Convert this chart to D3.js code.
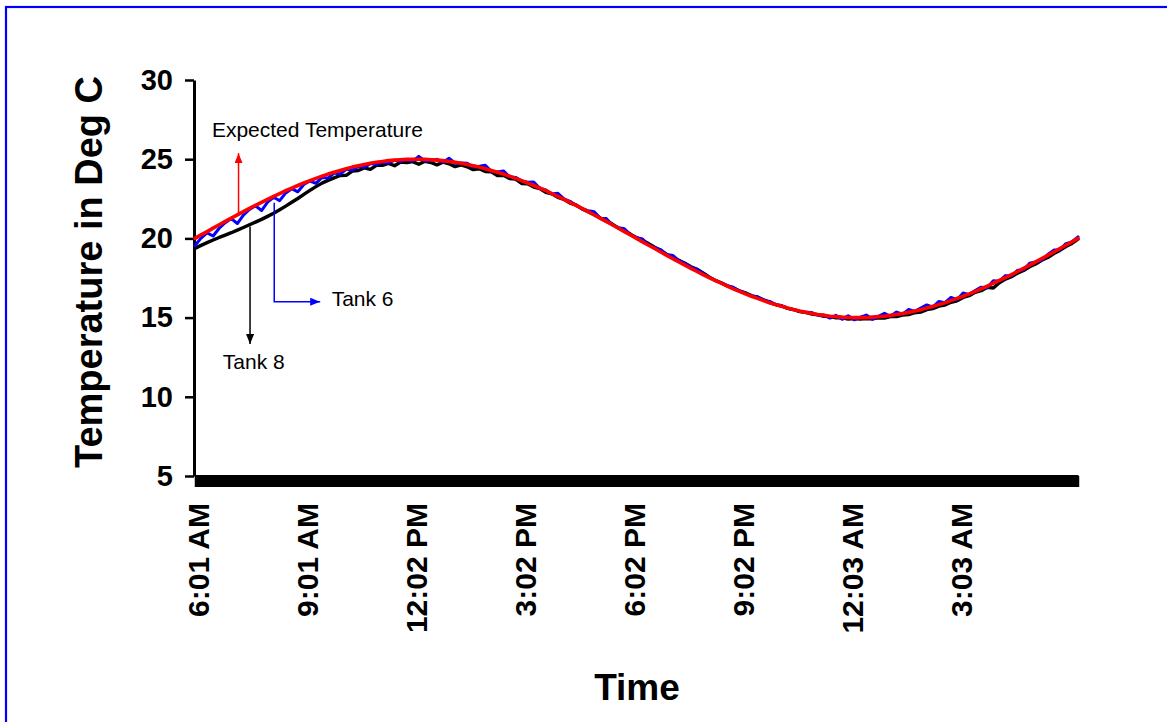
<!DOCTYPE html>
<html>
<head>
<meta charset="utf-8">
<script src="https://cdn.jsdelivr.net/npm/d3@7"></script>
<style>
	body { margin: 0; background: #fff; }
	svg text { font-family: Arial, "Liberation Sans", sans-serif; }
	.axis path, .axis line { stroke: #000; }
</style>
</head>
<body>
<svg id="chart"></svg>
<script>
// readings every 10 minutes, starting 6:01 AM
const minutes = d3.range(0, 1461, 10);

const expectedTemp = [
	20.00, 20.22, 20.43, 20.65, 20.86, 21.07, 21.28, 21.49, 21.69, 21.89,
	22.09, 22.28, 22.47, 22.65, 22.83, 23.01, 23.18, 23.34, 23.50, 23.65,
	23.79, 23.93, 24.06, 24.18, 24.29, 24.40, 24.50, 24.59, 24.67, 24.74,
	24.81, 24.86, 24.91, 24.94, 24.97, 24.99, 25.00, 25.00, 24.99, 24.97,
	24.94, 24.91, 24.86, 24.81, 24.74, 24.67, 24.59, 24.50, 24.40, 24.29,
	24.18, 24.06, 23.93, 23.79, 23.65, 23.50, 23.34, 23.18, 23.01, 22.83,
	22.65, 22.47, 22.28, 22.09, 21.89, 21.69, 21.48, 21.28, 21.07, 20.86,
	20.64, 20.43, 20.22, 20.00, 19.78, 19.57, 19.36, 19.14, 18.93, 18.72,
	18.52, 18.31, 18.11, 17.91, 17.72, 17.53, 17.35, 17.17, 16.99, 16.82,
	16.66, 16.50, 16.35, 16.21, 16.07, 15.94, 15.82, 15.71, 15.60, 15.50,
	15.41, 15.33, 15.26, 15.19, 15.14, 15.09, 15.06, 15.03, 15.01, 15.00,
	15.00, 15.00, 15.03, 15.06, 15.09, 15.14, 15.19, 15.26, 15.33, 15.41,
	15.50, 15.60, 15.71, 15.82, 15.94, 16.07, 16.21, 16.35, 16.50, 16.66,
	16.82, 16.99, 17.17, 17.35, 17.53, 17.72, 17.91, 18.11, 18.31, 18.52,
	18.72, 18.93, 19.14, 19.36, 19.57, 19.78, 20.00
];

const tank6 = [
	19.55, 20.02, 20.35, 20.15, 20.64, 20.99, 21.25, 20.94, 21.47, 21.83,
	22.06, 21.76, 22.29, 22.60, 22.38, 22.87, 23.14, 22.94, 23.40, 23.62,
	23.47, 23.85, 23.81, 24.13, 24.07, 24.36, 24.30, 24.54, 24.49, 24.72,
	24.66, 24.81, 24.76, 24.94, 24.85, 24.97, 24.88, 25.18, 24.89, 24.92,
	24.99, 24.81, 25.06, 24.75, 24.76, 24.75, 24.51, 24.55, 24.62, 24.24,
	24.20, 24.26, 23.89, 23.85, 23.63, 23.55, 23.56, 23.16, 23.06, 22.80,
	22.85, 22.49, 22.34, 22.09, 21.87, 21.75, 21.68, 21.28, 21.25, 20.85,
	20.68, 20.61, 20.22, 20.05, 19.96, 19.59, 19.42, 19.29, 18.98, 18.92,
	18.60, 18.43, 18.17, 18.06, 17.78, 17.55, 17.35, 17.19, 17.02, 16.92,
	16.68, 16.55, 16.35, 16.31, 16.10, 16.02, 15.82, 15.76, 15.58, 15.52,
	15.38, 15.33, 15.32, 15.16, 15.16, 14.97, 15.14, 14.89, 15.11, 14.86,
	15.02, 15.16, 14.89, 15.08, 15.27, 15.08, 15.35, 15.22, 15.51, 15.39,
	15.60, 15.80, 15.66, 16.02, 15.94, 16.27, 16.13, 16.55, 16.45, 16.71,
	16.92, 16.89, 17.32, 17.30, 17.65, 17.62, 17.99, 18.01, 18.43, 18.52,
	18.62, 18.98, 19.26, 19.28, 19.67, 19.78, 20.10
];

const tank8 = [
	19.37, 19.56, 19.73, 19.90, 20.06, 20.21, 20.36, 20.52, 20.69, 20.86,
	21.03, 21.20, 21.39, 21.59, 21.81, 22.04, 22.28, 22.52, 22.78, 23.03,
	23.27, 23.49, 23.66, 23.82, 23.97, 23.98, 24.25, 24.29, 24.45, 24.36,
	24.61, 24.61, 24.73, 24.59, 24.82, 24.79, 24.85, 24.68, 24.87, 24.79,
	24.64, 24.81, 24.71, 24.53, 24.64, 24.52, 24.34, 24.40, 24.22, 24.21,
	23.96, 23.98, 23.78, 23.74, 23.47, 23.45, 23.24, 23.15, 22.91, 22.81,
	22.59, 22.47, 22.23, 22.11, 21.86, 21.69, 21.51, 21.28, 21.09, 20.90,
	20.66, 20.46, 20.27, 20.05, 19.86, 19.67, 19.44, 19.24, 18.99, 18.80,
	18.62, 18.43, 18.21, 18.05, 17.82, 17.57, 17.35, 17.20, 17.01, 16.87,
	16.69, 16.56, 16.39, 16.29, 16.12, 15.96, 15.82, 15.73, 15.58, 15.50,
	15.38, 15.33, 15.22, 15.17, 15.08, 15.06, 14.98, 14.98, 14.91, 14.94,
	14.90, 14.94, 14.93, 14.98, 14.97, 15.06, 15.07, 15.16, 15.19, 15.31,
	15.35, 15.50, 15.57, 15.72, 15.79, 15.97, 16.06, 16.27, 16.38, 16.60,
	16.70, 16.91, 16.87, 17.20, 17.43, 17.58, 17.81, 17.97, 18.21, 18.38,
	18.62, 18.79, 19.04, 19.24, 19.49, 19.68, 19.95
];

const tickMinutes = [0, 180, 361, 541, 721, 901, 1082, 1262];
const tickLabels = ['6:01 AM', '9:01 AM', '12:02 PM', '3:02 PM', '6:02 PM', '9:02 PM', '12:03 AM', '3:03 AM'];
const yTicks = [5, 10, 15, 20, 25, 30];

// dimensions
const width = 1167;
const height = 722;

// scales
const scaleX = d3.scaleLinear()
	.domain([0, 1460])
	.range([195, 1078]);

const scaleY = d3.scaleLinear()
	.domain([5, 30])
	.range([476, 80]);

const $svg = d3.select('#chart')
	.attr('width', width)
	.attr('height', height);

// blue frame round the chart area (right and bottom sides fall outside the picture)
$svg.append('rect')
	.attr('x', 6)
	.attr('y', 7)
	.attr('width', 1220)
	.attr('height', 800)
	.attr('fill', 'none')
	.attr('stroke', '#0000ff')
	.attr('stroke-width', 2.2);

// arrow heads
const $defs = $svg.append('defs');
['#ff0000', '#000000', '#0000ff'].forEach(function(c, i) {
	$defs.append('marker')
		.attr('id', 'head' + i)
		.attr('viewBox', '0 0 10 8')
		.attr('refX', 10)
		.attr('refY', 4)
		.attr('markerWidth', 10)
		.attr('markerHeight', 8)
		.attr('markerUnits', 'userSpaceOnUse')
		.attr('orient', 'auto')
		.append('path')
		.attr('d', 'M0,0L10,4L0,8Z')
		.attr('fill', c);
});

// x axis: one tick per minute, which is what makes the heavy black band
const $xAxis = $svg.append('g')
	.attr('class', 'axis axis--x')
	.attr('transform', 'translate(0,476)')
	.call(d3.axisBottom(scaleX).tickValues(d3.range(0, 1461)).tickSize(11).tickSizeOuter(0).tickFormat(''));
$xAxis.select('.domain').attr('stroke-width', 3);
$xAxis.selectAll('.tick line').attr('stroke-width', 1.5);

const $xLabels = $svg.append('g')
	.attr('class', 'axis axis--xlabels')
	.attr('transform', 'translate(0,476)')
	.call(d3.axisBottom(scaleX).tickValues(tickMinutes).tickSize(0).tickFormat((d, i) => tickLabels[i]));
$xLabels.select('.domain').remove();
$xLabels.selectAll('text')
	.attr('transform', 'rotate(-90)')
	.attr('text-anchor', 'end')
	.attr('x', -27)
	.attr('y', 3)
	.attr('dy', '0.35em')
	.attr('fill', '#000')
	.style('font-size', '30px')
	.style('font-weight', 'bold');

// y axis
const $yAxis = $svg.append('g')
	.attr('class', 'axis axis--y')
	.attr('transform', 'translate(194,0)')
	.call(d3.axisLeft(scaleY).tickValues(yTicks).tickSize(9).tickPadding(12).tickSizeOuter(0));
$yAxis.select('.domain').attr('stroke-width', 3);
$yAxis.selectAll('.tick line').attr('stroke-width', 2.5);
$yAxis.selectAll('text')
	.attr('fill', '#000')
	.style('font-size', '29px')
	.style('font-weight', 'bold');

// axis titles
$svg.append('text')
	.attr('transform', 'translate(102,272) rotate(-90)')
	.attr('text-anchor', 'middle')
	.style('font-size', '38px')
	.style('font-weight', 'bold')
	.text('Temperature in Deg C');

$svg.append('text')
	.attr('x', 637)
	.attr('y', 700)
	.attr('text-anchor', 'middle')
	.style('font-size', '37px')
	.style('font-weight', 'bold')
	.text('Time');

// series
const line = d3.line()
	.x((d, i) => scaleX(minutes[i]))
	.y(d => scaleY(d));

const series = [
	{name: 'Tank 8', values: tank8, color: '#000000', w: 3.4},
	{name: 'Tank 6', values: tank6, color: '#0000ff', w: 3},
	{name: 'Expected Temperature', values: expectedTemp, color: '#ff0000', w: 3.6}
];

$svg.append('g')
	.selectAll('path')
	.data(series)
	.enter()
	.append('path')
	.attr('d', d => line(d.values))
	.attr('fill', 'none')
	.attr('stroke', d => d.color)
	.attr('stroke-width', d => d.w)
	.attr('stroke-linejoin', 'round')
	.attr('stroke-linecap', 'round');

// call-outs, placed in data units
const $notes = $svg.append('g');

$notes.append('path')
	.attr('d', d3.line()([[scaleX(72), scaleY(21.45)], [scaleX(72), scaleY(25.38)]]))
	.attr('stroke', '#ff0000').attr('stroke-width', 1.5).attr('fill', 'none')
	.attr('marker-end', 'url(#head0)');

$notes.append('path')
	.attr('d', d3.line()([[scaleX(91), scaleY(20.75)], [scaleX(91), scaleY(13.33)]]))
	.attr('stroke', '#000').attr('stroke-width', 1.5).attr('fill', 'none')
	.attr('marker-end', 'url(#head1)');

$notes.append('path')
	.attr('d', d3.line()([[scaleX(131), scaleY(22.25)], [scaleX(131), scaleY(16.0)], [scaleX(207), scaleY(16.0)]]))
	.attr('stroke', '#0000ff').attr('stroke-width', 1.5).attr('fill', 'none')
	.attr('marker-end', 'url(#head2)');

$notes.append('text')
	.attr('x', scaleX(28))
	.attr('y', scaleY(26.41))
	.style('font-size', '21px')
	.text('Expected Temperature');

$notes.append('text')
	.attr('x', scaleX(226))
	.attr('y', scaleY(15.73))
	.style('font-size', '21px')
	.text('Tank 6');

$notes.append('text')
	.attr('x', scaleX(46))
	.attr('y', scaleY(11.78))
	.style('font-size', '21px')
	.text('Tank 8');
</script>
</body>
</html>
